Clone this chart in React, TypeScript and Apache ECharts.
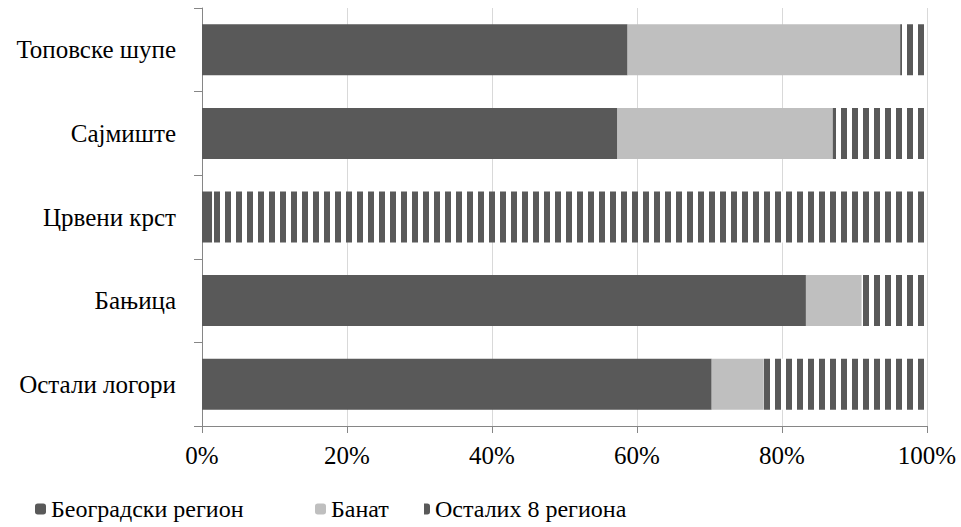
import React, { useEffect, useRef } from "react";
import * as echarts from "echarts";

const categories = ["Топовске шупе", "Сајмиште", "Црвени крст", "Бањица", "Остали логори"];
const seriesNames = ["Београдски регион", "Банат", "Осталих 8 региона"];
const belgrade = [58.7, 57.3, 1.4, 83.3, 70.3];
const banat = [37.6, 29.7, 0, 7.7, 7.2];
const others = [3.7, 13.0, 98.6, 9.0, 22.5];
const xTicks = [0, 20, 40, 60, 80, 100];

const FONT = "Liberation Serif";
const DARK = "#595959";
const LIGHT = "#bfbfbf";

const stripeSvg =
  "<svg xmlns='http://www.w3.org/2000/svg' width='11' height='11'>" +
  "<rect width='11' height='11' fill='#ffffff'/>" +
  "<rect x='5' y='0' width='6' height='11' fill='" + DARK + "'/></svg>";
const stripeUrl = "data:image/svg+xml;charset=utf-8," + encodeURIComponent(stripeSvg);

export default function App() {
  const ref = useRef<HTMLDivElement>(null);
  useEffect(() => {
    if (!ref.current) return;
    const chart = echarts.init(ref.current, null, { renderer: "svg" });
    const stripe: any = {
      image: stripeUrl,
      repeat: "repeat",
      imageWidth: 11,
      imageHeight: 11,
    };
    const legendBase = {
      top: 492,
      padding: 5,
      itemWidth: 11,
      itemHeight: 11,
      itemGap: 10,
      textStyle: { fontFamily: FONT, fontSize: 24, color: "#000" },
    };
    chart.setOption({
      animation: false,
      backgroundColor: "#ffffff",
      textStyle: { fontFamily: FONT },
      grid: { left: 202, right: 34, top: 8, bottom: 101, containLabel: false },
      legend: [
        { ...legendBase, data: [seriesNames[0]], left: 30 },
        { ...legendBase, data: [seriesNames[1]], left: 310 },
        { ...legendBase, data: [seriesNames[2]], left: 414 },
      ],
      xAxis: {
        type: "value",
        min: xTicks[0],
        max: xTicks[xTicks.length - 1],
        interval: 20,
        axisLine: { show: true, lineStyle: { color: "#868686", width: 1 } },
        axisTick: { show: true, length: 7, lineStyle: { color: "#868686" } },
        splitLine: { show: true, lineStyle: { color: "#d9d9d9", width: 1 } },
        axisLabel: {
          formatter: "{value}%",
          fontFamily: FONT,
          fontSize: 25,
          color: "#000",
          margin: 17,
        },
      },
      yAxis: {
        type: "category",
        data: categories,
        inverse: true,
        axisLine: { show: true, lineStyle: { color: "#868686", width: 1 } },
        axisTick: { show: true, length: 8, alignWithLabel: false, lineStyle: { color: "#868686" } },
        splitLine: { show: false },
        axisLabel: { fontFamily: FONT, fontSize: 25, color: "#000", margin: 26 },
      },
      series: [
        {
          name: seriesNames[0],
          type: "bar",
          stack: "total",
          barWidth: 51,
          itemStyle: { color: DARK },
          data: belgrade,
        },
        {
          name: seriesNames[1],
          type: "bar",
          stack: "total",
          barWidth: 51,
          itemStyle: { color: LIGHT },
          data: banat,
        },
        {
          name: seriesNames[2],
          type: "bar",
          stack: "total",
          barWidth: 51,
          itemStyle: { color: stripe },
          data: others,
        },
      ],
    });
    return () => chart.dispose();
  }, []);
  return (
    <div
      ref={ref}
      style={{ position: "fixed", left: 0, top: 0, width: 961, height: 527 }}
    />
  );
}
